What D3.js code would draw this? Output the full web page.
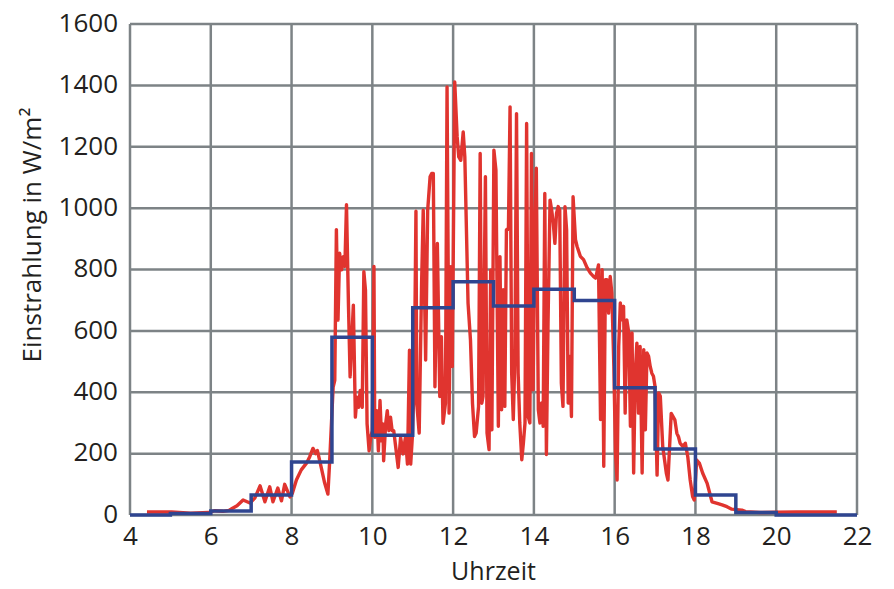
<!DOCTYPE html>
<html>
<head>
<meta charset="utf-8">
<script src="https://cdn.jsdelivr.net/npm/d3@7"></script>
<style>
  html, body { margin: 0; padding: 0; background: #ffffff; }
  svg text { font-family: "Open Sans", "Noto Sans", sans-serif; fill: #231f20; }
</style>
</head>
<body>
<svg id="chart" width="894" height="589"></svg>
<script>
// Measured irradiance (time of day in hours, W/m²)
const measuredHours = [
  4.42, 5.03, 5.5, 5.95, 6.1, 6.3, 6.45, 6.55, 6.65, 6.8, 6.97, 7.09, 7.22, 7.34, 7.46, 7.54,
  7.66, 7.75, 7.83, 7.96, 8.02, 8.12, 8.24, 8.37, 8.45, 8.53, 8.6, 8.64, 8.74, 8.82, 8.9, 8.94,
  9.03, 9.07, 9.11, 9.15, 9.19, 9.24, 9.28, 9.32, 9.36, 9.41, 9.45, 9.49, 9.53, 9.58, 9.62, 9.66,
  9.7, 9.75, 9.79, 9.83, 9.87, 9.92, 9.96, 10.0, 10.04, 10.06, 10.11, 10.15, 10.19, 10.23, 10.26, 10.28,
  10.33, 10.37, 10.41, 10.45, 10.49, 10.53, 10.58, 10.64, 10.7, 10.76, 10.82, 10.87, 10.92, 10.95, 10.99, 11.04,
  11.08, 11.1, 11.16, 11.22, 11.26, 11.32, 11.37, 11.43, 11.47, 11.51, 11.55, 11.61, 11.67, 11.71, 11.75, 11.81,
  11.85, 11.9, 11.94, 11.98, 12.04, 12.1, 12.14, 12.19, 12.25, 12.29, 12.37, 12.43, 12.48, 12.53, 12.57, 12.63,
  12.67, 12.71, 12.74, 12.8, 12.84, 12.89, 12.93, 12.96, 13.01, 13.06, 13.12, 13.16, 13.2, 13.24, 13.28, 13.32,
  13.37, 13.41, 13.45, 13.49, 13.53, 13.57, 13.61, 13.65, 13.7, 13.74, 13.78, 13.82, 13.86, 13.9, 13.94, 13.98,
  14.02, 14.06, 14.11, 14.15, 14.19, 14.23, 14.27, 14.31, 14.35, 14.4, 14.44, 14.48, 14.52, 14.56, 14.6, 14.64,
  14.68, 14.72, 14.77, 14.81, 14.85, 14.89, 14.93, 14.97, 15.03, 15.07, 15.15, 15.23, 15.32, 15.4, 15.48, 15.53,
  15.6, 15.65, 15.69, 15.73, 15.77, 15.81, 15.85, 15.89, 15.93, 15.98, 16.02, 16.06, 16.1, 16.14, 16.18, 16.22,
  16.26, 16.3, 16.35, 16.39, 16.43, 16.47, 16.51, 16.55, 16.59, 16.63, 16.68, 16.72, 16.76, 16.8, 16.84, 16.88,
  16.92, 16.96, 17.0, 17.05, 17.09, 17.13, 17.19, 17.28, 17.32, 17.4, 17.49, 17.54, 17.58, 17.62, 17.69, 17.75,
  17.81, 17.87, 17.93, 17.97, 18.03, 18.1, 18.18, 18.29, 18.41, 18.54, 18.66, 18.78, 18.9, 19.15, 19.24, 19.6,
  20.0, 20.5, 21.5
];
const measuredValues = [
  10, 10, 6, 8, 14, 12, 15, 23, 30, 49, 39, 55, 95, 43, 92, 43,
  88, 46, 100, 59, 71, 114, 147, 169, 190, 217, 200, 210, 152, 104, 68, 166,
  417, 439, 930, 635, 853, 799, 842, 810, 1011, 679, 450, 570, 684, 319, 384, 351,
  406, 351, 793, 733, 297, 209, 253, 275, 810, 253, 340, 209, 373, 242, 297, 177,
  297, 340, 275, 319, 275, 275, 220, 155, 253, 199, 253, 166, 537, 166, 253, 450,
  990, 364, 267, 755, 993, 505, 993, 1102, 1113, 1113, 418, 885, 386, 581, 299, 364,
  1395, 332, 809, 484, 1411, 1232, 1167, 1156, 1248, 1167, 690, 570, 364, 256, 267, 353,
  1178, 364, 386, 1102, 267, 213, 798, 278, 1189, 1124, 289, 842, 343, 734, 354, 929,
  934, 1330, 462, 311, 517, 1308, 462, 300, 180, 234, 300, 1276, 321, 300, 1178, 408,
  907, 1130, 343, 300, 365, 289, 1048, 197, 625, 1026, 994, 951, 885, 983, 1005, 994,
  430, 354, 1005, 929, 365, 517, 321, 1037, 897, 875, 843, 832, 805, 788, 777, 772,
  815, 311, 799, 159, 767, 767, 658, 777, 723, 484, 202, 114, 549, 691, 636, 680,
  332, 636, 593, 289, 593, 137, 462, 560, 332, 549, 137, 539, 278, 528, 517, 484,
  462, 452, 419, 130, 398, 387, 223, 136, 114, 331, 310, 266, 255, 234, 223, 234,
  190, 114, 60, 49, 179, 168, 136, 103, 43, 38, 33, 27, 19, 16, 11, 8,
  9, 10, 10
];

// Hourly mean irradiance (start of each hour, W/m²)
const hourStarts = [4, 5, 6, 7, 8, 9, 10, 11, 12, 13, 14, 15, 16, 17, 18, 19, 20, 21];
const hourMeans  = [0, 5, 13, 65, 173, 579, 260, 675, 760, 681, 736, 699, 415, 215, 65, 8, 0, 0];

const xTicks = [4, 6, 8, 10, 12, 14, 16, 18, 20, 22];
const yTicks = [0, 200, 400, 600, 800, 1000, 1200, 1400, 1600];
const xTitle = "Uhrzeit";
const yTitle = "Einstrahlung in W/m²";

const svg = d3.select("#chart");
const margin = { left: 130, right: 37, top: 24, bottom: 74 };
const W = 894, H = 589;

const x = d3.scaleLinear().domain([4, 22]).range([margin.left, W - margin.right]);
const y = d3.scaleLinear().domain([0, 1600]).range([H - margin.bottom, margin.top]);

const gridColor = "#7d8386";

// grid
const grid = svg.append("g");
grid.selectAll("line.v").data(xTicks).join("line")
  .attr("x1", d => x(d)).attr("x2", d => x(d))
  .attr("y1", y(0)).attr("y2", y(1600))
  .attr("stroke", gridColor).attr("stroke-width", 2.5);
grid.selectAll("line.h").data(yTicks).join("line")
  .attr("x1", x(4)).attr("x2", x(22))
  .attr("y1", d => y(d)).attr("y2", d => y(d))
  .attr("stroke", gridColor).attr("stroke-width", 2.5);

// axes (labels only)
const xAxis = svg.append("g")
  .attr("transform", `translate(0,${y(0)})`)
  .call(d3.axisBottom(x).tickValues(xTicks).tickSize(0).tickPadding(12).tickFormat(d3.format("d")));
xAxis.select(".domain").remove();
xAxis.selectAll("text").attr("font-size", 26).attr("dy", "0.71em");

const yAxis = svg.append("g")
  .attr("transform", `translate(${x(4)},0)`)
  .call(d3.axisLeft(y).tickValues(yTicks).tickSize(0).tickPadding(12).tickFormat(d3.format("d")));
yAxis.select(".domain").remove();
yAxis.selectAll("text").attr("font-size", 26).attr("dy", "0.28em");

svg.append("text")
  .attr("x", (x(4) + x(22)) / 2).attr("y", 580)
  .attr("text-anchor", "middle").attr("font-size", 25)
  .text(xTitle);

svg.append("text")
  .attr("transform", `translate(41,235) rotate(-90)`)
  .attr("text-anchor", "middle").attr("font-size", 26)
  .text(yTitle);

// measured series
const measured = measuredHours.map((h, i) => [h, measuredValues[i]]);
svg.append("path")
  .datum(measured)
  .attr("fill", "none")
  .attr("stroke", "#e0342f")
  .attr("stroke-width", 3.4)
  .attr("stroke-linejoin", "round")
  .attr("d", d3.line().x(d => x(d[0])).y(d => y(d[1])));

// hourly means as steps, held until the end of the last hour
const steps = hourStarts.map((h, i) => [h, hourMeans[i]]);
steps.push([x.domain()[1], hourMeans[hourMeans.length - 1]]);
svg.append("path")
  .datum(steps)
  .attr("fill", "none")
  .attr("stroke", "#2f4590")
  .attr("stroke-width", 3.5)
  .attr("d", d3.line().curve(d3.curveStepAfter).x(d => x(d[0])).y(d => y(d[1])));
</script>
</body>
</html>
